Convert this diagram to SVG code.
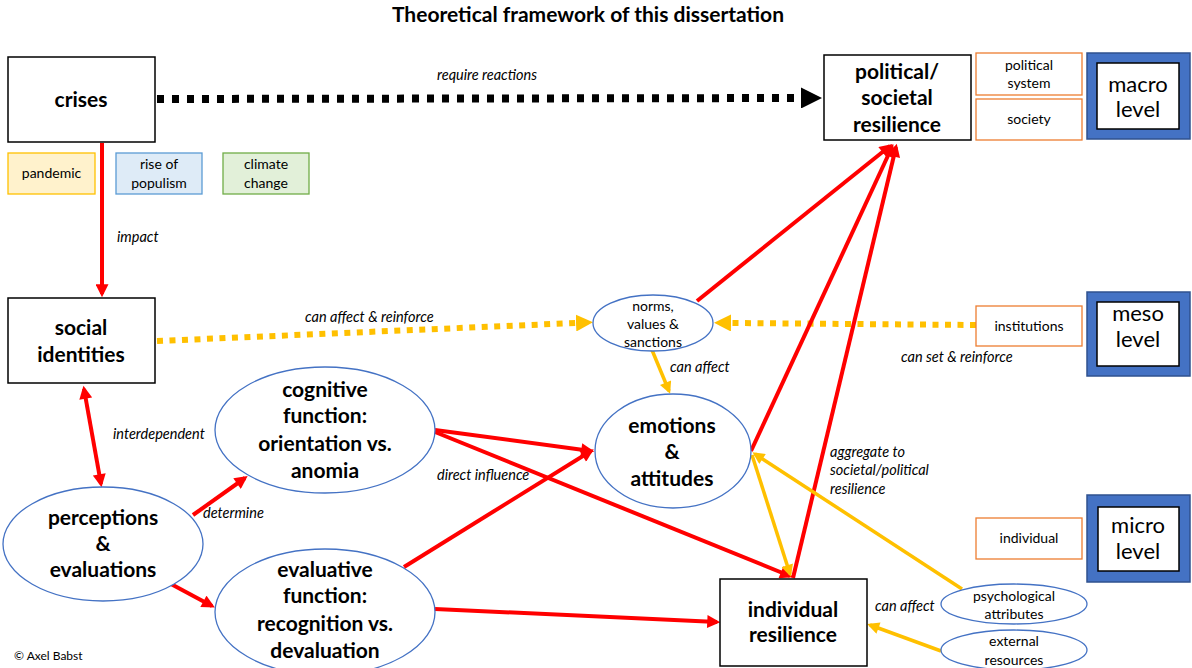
<svg xmlns="http://www.w3.org/2000/svg" width="1192" height="668" viewBox="0 0 1192 668">
  <style>
    text { font-family: Lato, "Open Sans", sans-serif; fill: #000; }
    .title { font-size: 21px; font-weight: bold; }
    .big { font-size: 21px; font-weight: bold; text-anchor: middle; }
    .lvl { font-size: 22px; text-anchor: middle; }
    .sm { font-size: 14px; text-anchor: middle; }
    .lbl { font-size: 14.5px; font-style: italic; }
    .box { fill: #fff; stroke: #000; stroke-width: 1.5; }
    .obox { fill: #fff; stroke: #ED7D31; stroke-width: 1.3; }
    .ell { fill: #fff; stroke: #4472C4; stroke-width: 1.3; }
    .lvlout { fill: #4472C4; stroke: #2F528F; stroke-width: 1.5; }
    .lvlin { fill: #fff; stroke: #000; stroke-width: 1.5; }
    .red { fill: none; stroke: #FF0000; stroke-width: 4; }
    .yel { fill: none; stroke: #FFC000; stroke-width: 3.5; }
    .ydot { fill: none; stroke: #FFC000; stroke-width: 6; stroke-dasharray: 6 6.5; }
    .bdot { fill: none; stroke: #000; stroke-width: 8; stroke-dasharray: 7 8; }
  </style>
  <defs>
    <marker id="ra" viewBox="0 0 10 10" refX="7.5" refY="5" markerWidth="14" markerHeight="13" markerUnits="userSpaceOnUse" orient="auto-start-reverse">
      <path d="M0,0 L10,5 L0,10 z" fill="#FF0000"/>
    </marker>
    <marker id="ya" viewBox="0 0 10 10" refX="7.5" refY="5" markerWidth="13" markerHeight="12" markerUnits="userSpaceOnUse" orient="auto">
      <path d="M0,0 L10,5 L0,10 z" fill="#FFC000"/>
    </marker>
    <marker id="yda" viewBox="0 0 10 10" refX="0" refY="5" markerWidth="17" markerHeight="17" markerUnits="userSpaceOnUse" orient="auto">
      <path d="M0,0 L10,5 L0,10 z" fill="#FFC000"/>
    </marker>
    <marker id="ba" viewBox="0 0 10 10" refX="0" refY="5" markerWidth="22" markerHeight="21" markerUnits="userSpaceOnUse" orient="auto">
      <path d="M0,0 L10,5 L0,10 z" fill="#000"/>
    </marker>
  </defs>

  <rect width="1192" height="668" fill="#fff"/>

  <text class="title" x="588" y="22" text-anchor="middle">Theoretical framework of this dissertation</text>

  <!-- connectors -->
  <g id="connectors">
    <line class="bdot" x1="157" y1="99" x2="801" y2="98" marker-end="url(#ba)"/>
    <line class="ydot" x1="157" y1="341" x2="576" y2="323" marker-end="url(#yda)"/>
    <line class="ydot" x1="976" y1="325" x2="731" y2="323" marker-end="url(#yda)"/>

    <line class="red" x1="102" y1="143" x2="102" y2="294" marker-end="url(#ra)"/>
    <line class="red" x1="84" y1="389" x2="101" y2="484" marker-start="url(#ra)" marker-end="url(#ra)"/>
    <line class="red" x1="193" y1="515" x2="245" y2="478" marker-end="url(#ra)"/>
    <line class="red" x1="171" y1="584" x2="212" y2="606" marker-end="url(#ra)"/>
    <line class="red" x1="435" y1="430" x2="591" y2="451" marker-end="url(#ra)"/>
    <line class="red" x1="435" y1="432" x2="790" y2="576" marker-end="url(#ra)"/>
    <line class="red" x1="404" y1="567" x2="591" y2="451" marker-end="url(#ra)"/>
    <line class="red" x1="435" y1="609" x2="717" y2="622" marker-end="url(#ra)"/>
    <line class="red" x1="697" y1="301" x2="890" y2="146" marker-end="url(#ra)"/>
    <line class="red" x1="751" y1="451" x2="892" y2="147" marker-end="url(#ra)"/>
    <line class="red" x1="793" y1="578" x2="896" y2="147" marker-end="url(#ra)"/>

    <line class="yel" x1="652" y1="350" x2="669" y2="391" marker-end="url(#ya)"/>
    <line class="yel" x1="962" y1="589" x2="755" y2="454" marker-end="url(#ya)"/>
    <line class="yel" x1="752" y1="455" x2="790" y2="574" marker-end="url(#ya)"/>
    <line class="yel" x1="941" y1="651" x2="870" y2="625" marker-end="url(#ya)"/>

    <text class="lbl" x="437" y="80">require reactions</text>
    <text class="lbl" x="117" y="242">impact</text>
    <text class="lbl" x="305" y="322">can affect &amp; reinforce</text>
    <text class="lbl" x="901" y="362">can set &amp; reinforce</text>
    <text class="lbl" x="670" y="372">can affect</text>
    <text class="lbl" x="113" y="439">interdependent</text>
    <text class="lbl" x="203" y="518">determine</text>
    <text class="lbl" x="437" y="480">direct influence</text>
    <text class="lbl" x="830" y="457">aggregate to</text>
    <text class="lbl" x="830" y="475">societal/political</text>
    <text class="lbl" x="830" y="494">resilience</text>
    <text class="lbl" x="875" y="611">can affect</text>
  </g>

  <!-- crises and their examples -->
  <g id="crises">
    <rect class="box" x="8" y="57" width="147" height="85"/>
    <text class="big" x="81" y="107">crises</text>
  </g>
  <g id="pandemic">
    <rect x="8" y="153" width="87" height="41" fill="#FFF2CC" stroke="#FFC000" stroke-width="1.3"/>
    <text class="sm" x="51.5" y="178">pandemic</text>
  </g>
  <g id="populism">
    <rect x="116" y="153" width="86" height="41" fill="#DEEBF7" stroke="#5B9BD5" stroke-width="1.3"/>
    <text class="sm" x="159" y="169">rise of</text>
    <text class="sm" x="159" y="188">populism</text>
  </g>
  <g id="climate">
    <rect x="223" y="153" width="86" height="41" fill="#E2F0D9" stroke="#70AD47" stroke-width="1.3"/>
    <text class="sm" x="266" y="169">climate</text>
    <text class="sm" x="266" y="188">change</text>
  </g>

  <!-- macro level -->
  <g id="political-resilience">
    <rect class="box" x="824" y="55" width="147" height="85"/>
    <text class="big" x="897" y="79">political/</text>
    <text class="big" x="897" y="105">societal</text>
    <text class="big" x="897" y="132">resilience</text>
  </g>
  <g id="political-system">
    <rect class="obox" x="976" y="53" width="106" height="42"/>
    <text class="sm" x="1029" y="70">political</text>
    <text class="sm" x="1029" y="88">system</text>
  </g>
  <g id="society">
    <rect class="obox" x="976" y="99" width="106" height="41"/>
    <text class="sm" x="1029" y="124">society</text>
  </g>
  <g id="macro-level">
    <rect class="lvlout" x="1087" y="53" width="103" height="86"/>
    <rect class="lvlin" x="1097" y="63" width="82" height="66"/>
    <text class="lvl" x="1138" y="92">macro</text>
    <text class="lvl" x="1138" y="117">level</text>
  </g>

  <!-- meso level -->
  <g id="norms">
    <ellipse class="ell" cx="653" cy="323" rx="60" ry="28"/>
    <text class="sm" x="653" y="311">norms,</text>
    <text class="sm" x="653" y="329">values &amp;</text>
    <text class="sm" x="653" y="347">sanctions</text>
  </g>
  <g id="institutions">
    <rect class="obox" x="976" y="306" width="106" height="40"/>
    <text class="sm" x="1029" y="331">institutions</text>
  </g>
  <g id="meso-level">
    <rect class="lvlout" x="1087" y="292" width="103" height="84"/>
    <rect class="lvlin" x="1097" y="302" width="82" height="64"/>
    <text class="lvl" x="1138" y="321">meso</text>
    <text class="lvl" x="1138" y="347">level</text>
  </g>

  <!-- individual level -->
  <g id="social-identities">
    <rect class="box" x="8" y="298" width="147" height="85"/>
    <text class="big" x="81" y="335">social</text>
    <text class="big" x="81" y="362">identities</text>
  </g>
  <g id="perceptions">
    <ellipse class="ell" cx="103" cy="544" rx="100" ry="57"/>
    <text class="big" x="103" y="525">perceptions</text>
    <text class="big" x="103" y="551">&amp;</text>
    <text class="big" x="103" y="577">evaluations</text>
  </g>
  <g id="cognitive-function">
    <ellipse class="ell" cx="325" cy="430" rx="110" ry="63"/>
    <text class="big" x="325" y="397">cognitive</text>
    <text class="big" x="325" y="423">function:</text>
    <text class="big" x="325" y="451">orientation vs.</text>
    <text class="big" x="325" y="478">anomia</text>
  </g>
  <g id="evaluative-function">
    <ellipse class="ell" cx="325" cy="612" rx="110" ry="63"/>
    <text class="big" x="325" y="577">evaluative</text>
    <text class="big" x="325" y="603">function:</text>
    <text class="big" x="325" y="631">recognition vs.</text>
    <text class="big" x="325" y="658">devaluation</text>
  </g>
  <g id="emotions">
    <ellipse class="ell" cx="673" cy="451" rx="78" ry="57"/>
    <text class="big" x="672" y="433">emotions</text>
    <text class="big" x="672" y="459">&amp;</text>
    <text class="big" x="672" y="486">attitudes</text>
  </g>
  <g id="individual-resilience">
    <rect class="box" x="720" y="579" width="147" height="87"/>
    <text class="big" x="793" y="617">individual</text>
    <text class="big" x="793" y="642">resilience</text>
  </g>
  <g id="psychological">
    <ellipse class="ell" cx="1014" cy="604" rx="73" ry="20"/>
    <text class="sm" x="1014" y="601">psychological</text>
    <text class="sm" x="1014" y="619">attributes</text>
  </g>
  <g id="external">
    <ellipse class="ell" cx="1014" cy="650" rx="73" ry="20"/>
    <text class="sm" x="1014" y="646">external</text>
    <text class="sm" x="1014" y="665">resources</text>
  </g>
  <g id="individual">
    <rect class="obox" x="976" y="518" width="106" height="41"/>
    <text class="sm" x="1029" y="543">individual</text>
  </g>
  <g id="micro-level">
    <rect class="lvlout" x="1087" y="495" width="103" height="87"/>
    <rect class="lvlin" x="1098" y="507" width="81" height="64"/>
    <text class="lvl" x="1138" y="533">micro</text>
    <text class="lvl" x="1138" y="559">level</text>
  </g>

  <text x="14" y="660" font-size="12">© Axel Babst</text>
</svg>
